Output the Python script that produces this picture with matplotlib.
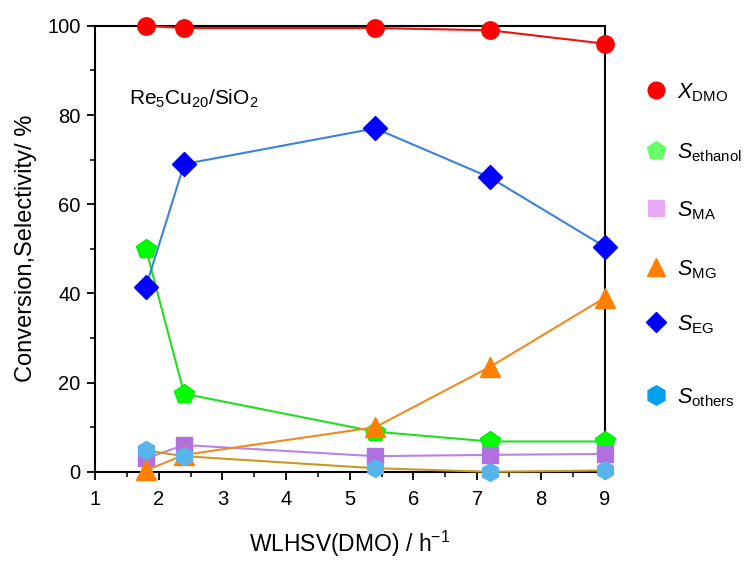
import matplotlib
matplotlib.use("Agg")
import matplotlib.pyplot as plt
from matplotlib.lines import Line2D
from matplotlib.ticker import MultipleLocator

plt.rcParams['font.family'] = ['Liberation Sans', 'DejaVu Sans']
plt.rcParams['mathtext.fontset'] = 'custom'
plt.rcParams['mathtext.rm'] = 'Liberation Sans'
plt.rcParams['mathtext.it'] = 'Liberation Sans:italic'

whsv = [1.8, 2.4, 5.4, 7.2, 9.0]
x_dmo = [100.0, 99.5, 99.5, 99.0, 96.0]
s_ethanol = [50.0, 17.5, 9.0, 6.8, 6.8]
s_ma = [3.0, 6.0, 3.5, 3.8, 4.0]
s_mg = [0.3, 3.8, 10.0, 23.5, 39.0]
s_eg = [41.5, 69.0, 77.0, 66.0, 50.5]
s_others = [4.8, 3.5, 0.8, 0.0, 0.3]

xticks = [1, 2, 3, 4, 5, 6, 7, 8, 9]
yticks = [0, 20, 40, 60, 80, 100]

fig = plt.figure(figsize=(7.45, 5.61), dpi=100)
ax = fig.add_axes([0.1275, 0.159, 0.684, 0.795])

lw = 1.5
common = dict(lw=lw, clip_on=False)
ax.plot(whsv, s_ethanol, color='#22dd22', marker='p', ms=14.5, mfc='#00ff00', mec='#00ee00', zorder=3, **common)
ax.plot(whsv, s_ma, color='#b883e6', marker='s', ms=11, mfc='#b070e0', mec='#b070e0', zorder=4, **common)
ax.plot(whsv, s_mg, color='#f08a20', marker='^', ms=14, mfc='#ff8000', mec='#ff8000', zorder=5, **common)
ax.plot(whsv, s_others, color='#c99a20', marker='h', ms=13, mfc='#5ab4ec', mec='#5ab4ec', zorder=6, **common)
ax.plot(whsv, s_eg, color='#3a82dc', marker='D', ms=12, mfc='#0000ff', mec='#0000ff', zorder=7, **common)
ax.plot(whsv, x_dmo, color='#ee1111', marker='o', ms=12.5, mfc='#ff0000', mec='#ff0000', zorder=8, **common)

ax.set_xlim(1, 9)
ax.set_ylim(0, 100)
ax.set_xticks(xticks)
ax.set_yticks(yticks)
ax.xaxis.set_minor_locator(MultipleLocator(0.5))
ax.yaxis.set_minor_locator(MultipleLocator(10))
ax.tick_params(which='major', direction='out', length=6, width=1.3, labelsize=14.5, top=False, right=False)
ax.tick_params(which='minor', direction='out', length=3.3, width=1.1, top=False, right=False)
ax.tick_params(axis='x', which='major', pad=7)
ax.tick_params(axis='y', which='major', pad=4.5)
for s in ax.spines.values():
    s.set_linewidth(1.5)

ax.set_xlabel('WLHSV(DMO) / h$^{-1}$', fontsize=16.5, labelpad=14)
ax.set_ylabel('Conversion,Selectivity/ %', fontsize=17, labelpad=7)

ax.text(0.067, 0.836, r'Re$_5$Cu$_{20}$/SiO$_2$', transform=ax.transAxes, fontsize=15, va='center', ha='left')

handles = [
    dict(marker='o', ms=12, color='#ff0000'),
    dict(marker='p', ms=13.5, color='#66ff66'),
    dict(marker='s', ms=11, color='#e8a8f4'),
    dict(marker='^', ms=13, color='#ff8000'),
    dict(marker='D', ms=10.5, color='#0000ff'),
    dict(marker='h', ms=14, color='#00a0f0'),
]
labels = [r'$\it{X}$$_{\rm DMO}$', r'$\it{S}$$_{\rm ethanol}$', r'$\it{S}$$_{\rm MA}$',
          r'$\it{S}$$_{\rm MG}$', r'$\it{S}$$_{\rm EG}$', r'$\it{S}$$_{\rm others}$']
leg_y_px = [90, 150, 208, 267, 322, 395]
W, H = 745, 561
for h, lab, ypx in zip(handles, labels, leg_y_px):
    yf = 1 - ypx / H
    fig.add_artist(Line2D([656 / W], [yf], ls='none', marker=h['marker'], ms=h['ms'],
                          mfc=h['color'], mec=h['color'], transform=fig.transFigure))
    fig.text(677 / W, yf - 0.004, lab, fontsize=15.5, va='center', ha='left')

fig.savefig('out.png', dpi=100)
